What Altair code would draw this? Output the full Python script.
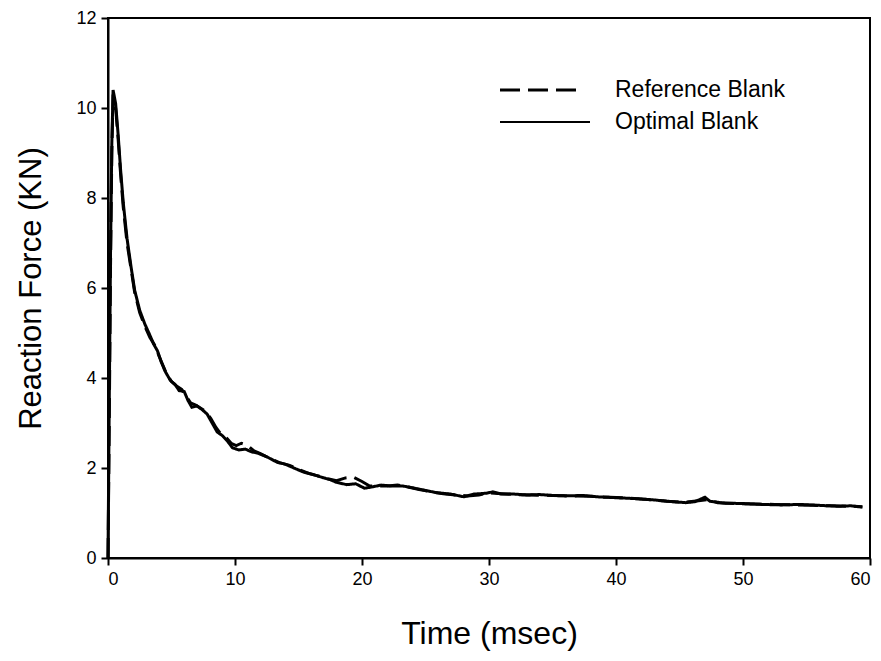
import altair as alt
import pandas as pd

opt_t = [0, 0.1, 0.2, 0.3, 0.4, 0.6, 0.8, 1.0, 1.2, 1.5, 1.8, 2.1, 2.5, 2.9, 3.3, 3.6, 3.9, 4.2, 4.5, 4.9,
         5.3, 5.6, 6.0, 6.3, 6.6, 7.0, 7.4, 7.8, 8.2, 8.6, 9.0, 9.4, 9.8, 10.3, 10.8, 11.3, 11.8, 12.5, 13.3,
         14.0, 14.8, 15.4, 16.2, 17.0, 17.5, 18.0, 18.8, 19.5, 20.2, 20.8, 21.5, 22.3, 23.2, 24.0, 25.0, 25.9,
         27.0, 28.0, 28.8, 29.8, 30.3, 31.0, 32.0, 33.0, 34.0, 35.0, 36.0, 37.4, 38.5, 40.0, 41.5, 43.0, 44.5,
         45.5, 46.2, 47.0, 47.4, 48.5, 50.0, 51.5, 53.0, 54.5, 56.0, 57.5, 58.5, 59.4]
opt_f = [0, 3.5, 6.8, 9.2, 10.4, 10.1, 9.4, 8.6, 7.9, 7.1, 6.5, 5.95, 5.5, 5.2, 4.95, 4.75, 4.6, 4.35, 4.15, 3.95,
         3.85, 3.72, 3.7, 3.5, 3.35, 3.38, 3.3, 3.2, 3.0, 2.8, 2.72, 2.6, 2.45, 2.4, 2.42, 2.36, 2.33, 2.25, 2.13,
         2.08, 1.98, 1.91, 1.85, 1.78, 1.74, 1.68, 1.63, 1.65, 1.55, 1.58, 1.62, 1.6, 1.6, 1.56, 1.5, 1.45,
         1.42, 1.36, 1.42, 1.44, 1.47, 1.42, 1.42, 1.4, 1.41, 1.39, 1.38, 1.39, 1.36, 1.34, 1.32, 1.29, 1.25,
         1.23, 1.25, 1.35, 1.26, 1.22, 1.21, 1.19, 1.18, 1.19, 1.17, 1.15, 1.16, 1.13]

ref_t = [0, 0.1, 0.2, 0.3, 0.4, 0.6, 0.8, 1.0, 1.2, 1.5, 1.8, 2.1, 2.5, 2.9, 3.3, 3.7, 4.0, 4.3, 4.6, 5.0,
         5.4, 5.8, 6.1, 6.5, 6.9, 7.3, 7.7, 8.1, 8.5, 8.9, 9.3, 9.7, 10.1, 10.5, 11.0, 11.5, 12.0, 12.7, 13.5,
         14.3, 15.0, 15.8, 16.6, 17.3, 18.0, 18.7, 19.3, 20.0, 20.6, 21.2, 22.0, 22.8, 23.6, 24.5, 25.5, 26.4,
         27.4, 28.3, 29.2, 30.0, 31.0, 32.0, 33.5, 35.0, 36.5, 38.0, 39.5, 41.0, 42.5, 44.0, 45.3, 46.5, 47.2,
         48.0, 49.5, 51.0, 52.5, 54.0, 55.5, 57.0, 58.5, 59.4]
ref_f = [0, 3.0, 6.5, 9.0, 10.3, 10.0, 9.3, 8.5, 7.8, 7.0, 6.45, 5.9, 5.45, 5.15, 4.9, 4.72, 4.5, 4.3, 4.1, 3.92,
         3.82, 3.75, 3.62, 3.45, 3.4, 3.33, 3.25, 3.1, 2.9, 2.75, 2.68, 2.55, 2.5, 2.55, 2.5, 2.38, 2.32, 2.22, 2.12,
         2.06, 1.97, 1.88, 1.82, 1.76, 1.72, 1.78, 1.8, 1.7, 1.6, 1.6, 1.6, 1.62, 1.58, 1.52, 1.47, 1.43,
         1.4, 1.38, 1.4, 1.45, 1.43, 1.41, 1.4, 1.39, 1.38, 1.37, 1.35, 1.33, 1.3, 1.26, 1.24, 1.27, 1.3,
         1.23, 1.21, 1.2, 1.19, 1.18, 1.17, 1.16, 1.15, 1.14]

series_names = ["Reference Blank", "Optimal Blank"]

df = pd.concat([
    pd.DataFrame({"t": ref_t, "f": ref_f, "s": series_names[0]}),
    pd.DataFrame({"t": opt_t, "f": opt_f, "s": series_names[1]}),
])

font = "Liberation Sans"

lines = alt.Chart(df).mark_line(color="black", strokeWidth=3).encode(
    x=alt.X("t:Q", scale=alt.Scale(domain=[0, 60], nice=False),
            axis=alt.Axis(values=[0, 10, 20, 30, 40, 50, 60], title="Time (msec)", grid=False,
                          labelFontSize=18, labelFont=font, labelPadding=5,
                          titleFontSize=32, titlePadding=30)),
    y=alt.Y("f:Q", scale=alt.Scale(domain=[0, 12], nice=False),
            axis=alt.Axis(values=[0, 2, 4, 6, 8, 10, 12], title="Reaction Force (KN)", grid=False,
                          labelFontSize=18, labelFont=font, labelPadding=5,
                          titleFontSize=31, titlePadding=28)),
    strokeDash=alt.StrokeDash("s:N", sort=series_names,
                              scale=alt.Scale(domain=series_names, range=[[20, 8], [1, 0]]),
                              legend=None),
    order=alt.Order("t:Q"),
)

leg_ref_line = alt.Chart().mark_rule(color="black", strokeWidth=3, strokeDash=[20, 8]).encode(
    x=alt.value(392), x2=alt.value(474), y=alt.value(72))
leg_opt_line = alt.Chart().mark_rule(color="black", strokeWidth=2).encode(
    x=alt.value(392), x2=alt.value(482), y=alt.value(104))
leg_ref_text = alt.Chart().mark_text(align="left", baseline="middle", font=font, fontSize=23,
                                      color="black", text=series_names[0]).encode(
    x=alt.value(507), y=alt.value(72))
leg_opt_text = alt.Chart().mark_text(align="left", baseline="middle", font=font, fontSize=23,
                                      color="black", text=series_names[1]).encode(
    x=alt.value(507), y=alt.value(104))

chart = alt.layer(lines, leg_ref_line, leg_opt_line, leg_ref_text, leg_opt_text).properties(
    width=762, height=540,
    autosize=alt.AutoSizeParams(type="none"),
    padding={"left": 100, "top": 10, "right": 3, "bottom": 95},
).configure_view(
    stroke="black", strokeWidth=2
).configure_axis(
    domainColor="black", domainWidth=2, tickColor="black", tickWidth=2, tickSize=7,
    labelColor="black", titleFont=font, titleFontWeight="normal", titleColor="black",
)

chart.save("out.html", embed_options={"renderer": "svg", "actions": False})
